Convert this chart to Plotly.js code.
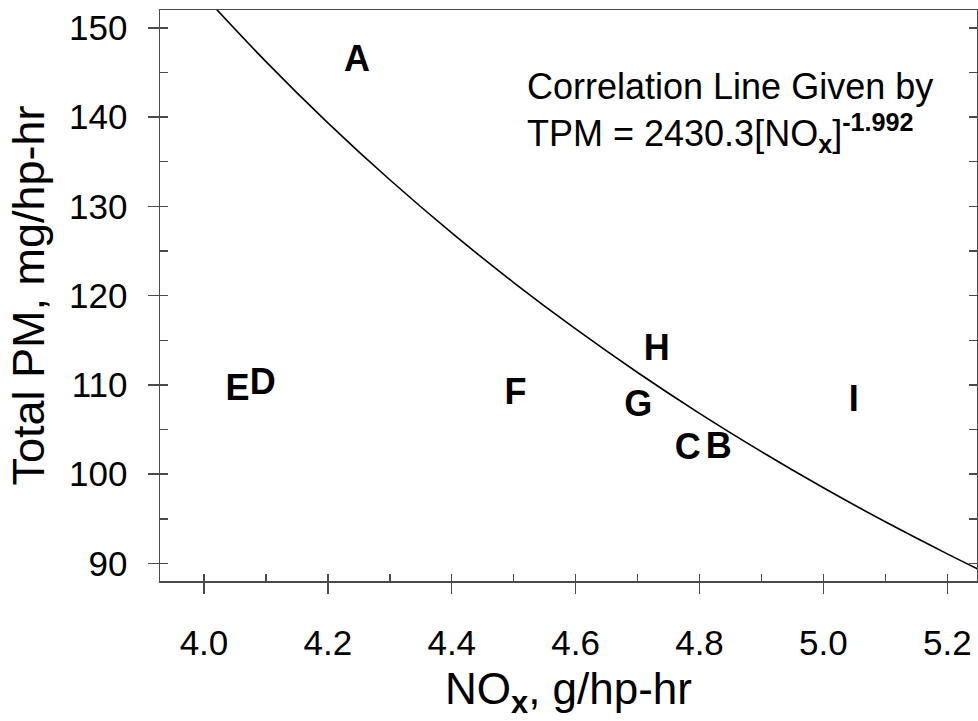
<!DOCTYPE html>
<html>
<head>
<meta charset="utf-8">
<script src="https://cdn.plot.ly/plotly-3.0.1.min.js"></script>
<style>html,body{margin:0;padding:0;background:#fff;}#chart{width:978px;height:721px;}</style>
</head>
<body>
<div id="chart"></div>
<script>
// Engine labels and their measured values
var engineLabels = ['A', 'B', 'C', 'D', 'E', 'F', 'G', 'H', 'I'];
var noxValues = [4.247, 4.831, 4.781, 4.095, 4.054, 4.503, 4.701, 4.731, 5.049];
var tpmValues = [146.2, 102.8, 102.7, 110.0, 109.3, 108.9, 107.5, 113.8, 108.1];

// Correlation line points
var curveNox = [4.0, 4.1, 4.2, 4.3, 4.4, 4.5, 4.6, 4.7, 4.8, 4.9, 5.0, 5.1, 5.2, 5.25];
var curveTpm = [153.59, 146.22, 139.36, 132.98, 127.03, 121.47, 116.27, 111.39, 106.81, 102.52, 98.47, 94.66, 91.07, 89.35];

var xTickVals = [4.0, 4.2, 4.4, 4.6, 4.8, 5.0, 5.2];
var xTickText = ['4.0', '4.2', '4.4', '4.6', '4.8', '5.0', '5.2'];
var yTickVals = [90, 100, 110, 120, 130, 140, 150];
var yTickText = ['90', '100', '110', '120', '130', '140', '150'];

var FONT = 'Liberation Sans, Arial, Helvetica, sans-serif';
var AXC = '#4a4a4a';

var traces = [
  {
    x: curveNox, y: curveTpm, mode: 'lines', type: 'scatter',
    line: {color: '#000000', width: 1.6, shape: 'spline'},
    hoverinfo: 'skip', showlegend: false
  },
  {
    x: noxValues, y: tpmValues, mode: 'text', type: 'scatter',
    text: engineLabels.map(function(s){return '<b>' + s + '</b>';}),
    textposition: 'middle center',
    textfont: {family: FONT, size: 36, color: '#000000'},
    showlegend: false
  }
];

var layout = {
  width: 978, height: 721,
  margin: {l: 160, r: 1, t: 10, b: 140},
  paper_bgcolor: '#ffffff', plot_bgcolor: '#ffffff',
  font: {family: FONT, color: '#000000'},
  showlegend: false,
  xaxis: {
    range: [3.929, 5.248],
    tickvals: xTickVals, ticktext: xTickText,
    ticks: 'outside', ticklen: 11, tickwidth: 1.5, tickcolor: AXC,
    minor: {dtick: 0.1, tick0: 4.1, ticks: 'inside', ticklen: 7, tickwidth: 1.5, tickcolor: AXC, showgrid: false},
    showline: true, linecolor: AXC, linewidth: 1.5, mirror: true,
    showgrid: false, zeroline: false,
    tickfont: {family: FONT, size: 35, color: '#000000'},
    ticklabelstandoff: 19,
    title: {text: 'NO<sub><b>x</b></sub>, g/hp-hr', font: {family: FONT, size: 44, color: '#000000'}, standoff: 12}
  },
  yaxis: {
    range: [88.03, 152.0],
    tickvals: yTickVals, ticktext: yTickText,
    ticks: 'outside', ticklen: 11, tickwidth: 1.5, tickcolor: AXC,
    minor: {dtick: 5, tick0: 85, ticks: 'inside', ticklen: 8, tickwidth: 1.5, tickcolor: AXC, showgrid: false},
    showline: true, linecolor: AXC, linewidth: 1.5, mirror: 'ticks',
    showgrid: false, zeroline: false,
    tickfont: {family: FONT, size: 35, color: '#000000'},
    ticklabelstandoff: 13,
    title: {text: 'Total PM, mg/hp-hr', font: {family: FONT, size: 45, color: '#000000'}, standoff: 10}
  },
  annotations: [
    {
      xref: 'paper', yref: 'paper', x: 0.447, y: 0.905,
      xanchor: 'left', yanchor: 'top', align: 'left', showarrow: false,
      text: 'Correlation Line Given by<br>TPM = 2430.3[NO<sub><b>x</b></sub>]<sup><b>-1.992</b></sup>',
      font: {family: FONT, size: 36, color: '#000000'}
    }
  ]
};

Plotly.newPlot('chart', traces, layout, {displayModeBar: false, staticPlot: true});
</script>
</body>
</html>
